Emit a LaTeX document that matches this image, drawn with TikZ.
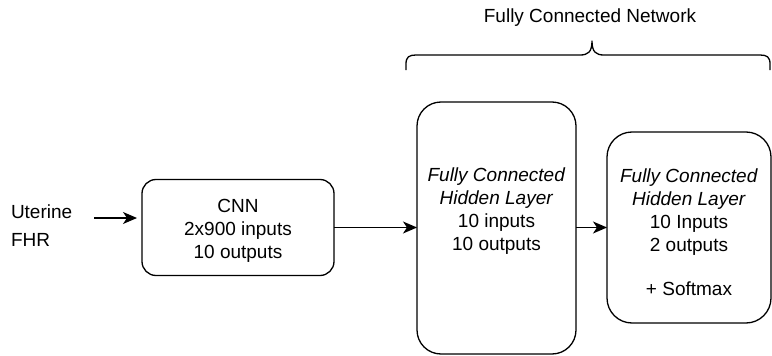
\documentclass[tikz,border=0pt]{standalone}
\usepackage{fontspec}
\setmainfont{Liberation Sans}
\usetikzlibrary{arrows.meta}
\begin{document}
\begin{tikzpicture}[x=1pt,y=-1pt,
  every node/.style={inner sep=0pt, outer sep=0pt},
  blk/.style={draw, line width=1.3pt, fill=white},
  txt/.style={align=center, font=\fontsize{19}{23}\selectfont},
  lbl/.style={align=left, font=\fontsize{19}{28}\selectfont},
  arr/.style={line width=1.3pt, -{Stealth[length=14pt,width=12pt,inset=4pt]}},
]
\useasboundingbox (0,0) rectangle (772,356);

% processing blocks
\node[blk, minimum width=192pt, minimum height=96pt, rounded corners=14pt] (cnn) at (238,227.5) {};
\node[blk, minimum width=159pt, minimum height=252pt, rounded corners=24pt] (fc1) at (496.5,228) {};
\node[blk, minimum width=164pt, minimum height=191pt, rounded corners=25pt] (fc2) at (689,227.5) {};

% block texts
\node[txt] (cnnt) at (238,231) {CNN\\2x900 inputs\\10 outputs};
\node[txt] (fc1t) at (496.5,211) {\textit{Fully Connected}\\\textit{Hidden Layer}\\10 inputs\\10 outputs};
\node[txt] (fc2t) at (689,232) {\textit{Fully Connected}\\\textit{Hidden Layer}\\10 Inputs\\2 outputs\\[21pt]+ Softmax};

% input signals
\node[lbl, anchor=west] (inp) at (11,226) {Uterine\\FHR};
\coordinate (ina) at (94,218);
\coordinate (inb) at (137,218);
\draw[arr] (ina) -- (inb);

% data flow between blocks
\draw[arr] (cnn.east) -- (cnn.east -| fc1.west);
\draw[arr] (fc1.east |- fc2.west) -- (fc2.west);

% brace grouping the fully connected part
\coordinate (bl) at (406,70);
\coordinate (bm) at (592,41);
\coordinate (br) at (770,70);
\draw[line width=1.3pt, line join=round]
  (bl) -- (406,64) .. controls (406,57) and (409,55) .. (416,55)
  -- (580,55) .. controls (588,55) and (592,52) .. (bm)
  .. controls (592,52) and (596,55) .. (604,55)
  -- (760,55) .. controls (767,55) and (770,57) .. (770,64) -- (br);
\node[txt] (fcn) at (590,18) {Fully Connected Network};
\end{tikzpicture}
\end{document}
